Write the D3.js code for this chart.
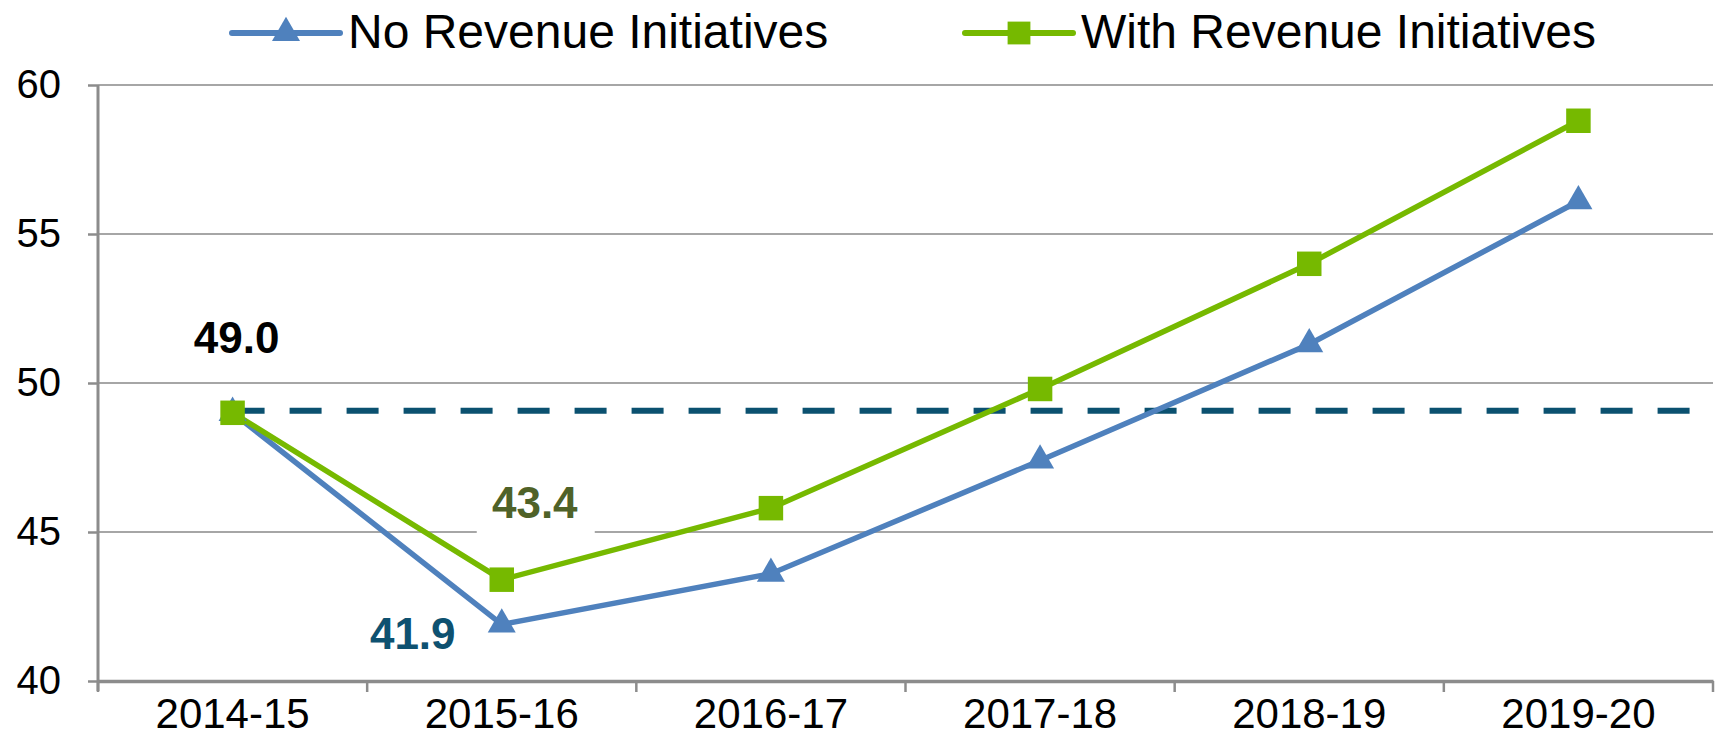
<!DOCTYPE html>
<html>
<head>
<meta charset="utf-8">
<script src="https://cdn.jsdelivr.net/npm/d3@7"></script>
<style>
  body { margin: 0; background: #fff; }
  svg text { font-family: Arial, "Liberation Sans", sans-serif; }
</style>
</head>
<body>
<div id="chart-area"></div>
<script>
const years = ['2014-15', '2015-16', '2016-17', '2017-18', '2018-19', '2019-20'];
const noRevenue = [49.0, 41.9, 43.6, 47.4, 51.3, 56.1];
const withRevenue = [49.0, 43.4, 45.8, 49.8, 54.0, 58.8];
const yTicks = [40, 45, 50, 55, 60];
const baseline = 49.0;

const W = 1719, H = 749;
const margin = { top: 85, right: 6, bottom: 68, left: 98 },
    width = W - margin.left - margin.right,
    height = H - margin.top - margin.bottom;

const blue = '#4f81bd', green = '#76b900', grid = '#a6a6a6', axisCol = '#8c8c8c';

const svg = d3.select('#chart-area')
    .append('svg')
    .attr('width', W)
    .attr('height', H);

const g = svg.append('g')
    .attr('transform', `translate(${margin.left},${margin.top})`);

const x = d3.scaleBand()
    .domain(years)
    .range([0, width]);

const y = d3.scaleLinear()
    .domain([40, 60])
    .range([height, 0]);

const cx = d => x(d) + x.bandwidth() / 2;

// gridlines
g.append('g')
    .selectAll('line')
    .data(yTicks.slice(1))
    .enter()
    .append('line')
    .attr('x1', 0)
    .attr('x2', width)
    .attr('y1', d => y(d))
    .attr('y2', d => y(d))
    .attr('stroke', grid)
    .attr('stroke-width', 2);

// y axis
const yAxis = g.append('g')
    .call(d3.axisLeft(y).tickValues(yTicks).tickSize(10).tickPadding(27).tickFormat(d3.format('d')));
yAxis.select('.domain').attr('stroke', axisCol).attr('stroke-width', 3).attr('d', `M0,${height + 10}V0`);
yAxis.selectAll('.tick line').attr('stroke', axisCol).attr('stroke-width', 2.5);
yAxis.selectAll('.tick text').attr('font-size', 40).attr('fill', '#000');

// x axis
const xAxis = g.append('g')
    .attr('transform', `translate(0,${height})`)
    .call(d3.axisBottom(x).tickSize(0).tickPadding(17));
xAxis.select('.domain').attr('stroke', axisCol).attr('stroke-width', 3.5);
xAxis.selectAll('.tick text').attr('font-size', 42).attr('fill', '#000');
xAxis.selectAll('.bound')
    .data(years.map(d => x(d)).concat([width]))
    .enter()
    .append('line')
    .attr('class', 'bound')
    .attr('x1', d => d).attr('x2', d => d)
    .attr('y1', 0).attr('y2', 11)
    .attr('stroke', axisCol)
    .attr('stroke-width', 2.5);

// dashed baseline
g.append('line')
    .attr('x1', cx(years[0]))
    .attr('x2', width)
    .attr('y1', y(baseline) - 2)
    .attr('y2', y(baseline) - 2)
    .attr('stroke', '#0b5170')
    .attr('stroke-width', 6)
    .attr('stroke-dasharray', '32,25');

const line = d3.line()
    .x((d, i) => cx(years[i]))
    .y(d => y(d));

g.append('path')
    .datum(noRevenue)
    .attr('fill', 'none')
    .attr('stroke', blue)
    .attr('stroke-width', 5.5)
    .attr('d', line);

g.append('path')
    .datum(withRevenue)
    .attr('fill', 'none')
    .attr('stroke', green)
    .attr('stroke-width', 5.5)
    .attr('d', line);

const tri = d3.symbol().type(d3.symbolTriangle).size(340);
const sq = d3.symbol().type(d3.symbolSquare).size(600);

g.selectAll('.tri')
    .data(noRevenue)
    .enter()
    .append('path')
    .attr('class', 'tri')
    .attr('transform', (d, i) => `translate(${cx(years[i])},${y(d)})`)
    .attr('d', tri)
    .attr('fill', blue);

g.selectAll('.sq')
    .data(withRevenue)
    .enter()
    .append('path')
    .attr('class', 'sq')
    .attr('transform', (d, i) => `translate(${cx(years[i])},${y(d)})`)
    .attr('d', sq)
    .attr('fill', green);

// data labels
g.append('text')
    .attr('x', cx(years[0]) + 4)
    .attr('y', y(baseline) - 60)
    .attr('text-anchor', 'middle')
    .attr('font-size', 44)
    .attr('font-weight', 'bold')
    .attr('fill', '#000')
    .text(baseline.toFixed(1));

const lbl2 = g.append('g')
    .attr('transform', `translate(${cx(years[1]) + 33},${y(withRevenue[1]) - 62})`);
lbl2.append('rect')
    .attr('x', -58).attr('y', -40)
    .attr('width', 118).attr('height', 58)
    .attr('fill', '#fff');
lbl2.append('text')
    .attr('text-anchor', 'middle')
    .attr('font-size', 44)
    .attr('font-weight', 'bold')
    .attr('fill', '#4f6228')
    .text(withRevenue[1].toFixed(1));

g.append('text')
    .attr('x', cx(years[1]) - 89)
    .attr('y', y(noRevenue[1]) + 25)
    .attr('text-anchor', 'middle')
    .attr('font-size', 44)
    .attr('font-weight', 'bold')
    .attr('fill', '#0e5170')
    .text(noRevenue[1].toFixed(1));

// legend
const legendData = [
    { name: 'No Revenue Initiatives', color: blue, shape: d3.symbolTriangle, size: 340, x: 232 },
    { name: 'With Revenue Initiatives', color: green, shape: d3.symbolSquare, size: 520, x: 965 }
];
const legend = svg.selectAll('.legend')
    .data(legendData)
    .enter()
    .append('g')
    .attr('class', 'legend')
    .attr('transform', d => `translate(${d.x},33)`);
legend.append('line')
    .attr('x1', 0).attr('x2', 108)
    .attr('stroke', d => d.color)
    .attr('stroke-width', 6)
    .attr('stroke-linecap', 'round');
legend.append('path')
    .attr('transform', 'translate(54,0)')
    .attr('d', d => d3.symbol().type(d.shape).size(d.size)())
    .attr('fill', d => d.color);
legend.append('text')
    .attr('x', 116)
    .attr('y', 15)
    .attr('font-size', 48)
    .attr('fill', '#000')
    .text(d => d.name);
</script>
</body>
</html>
